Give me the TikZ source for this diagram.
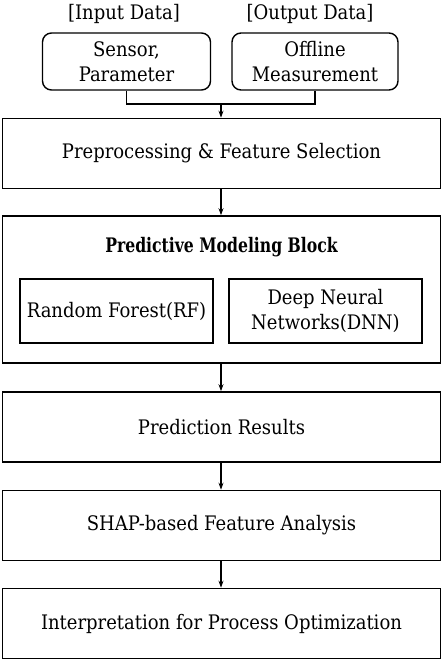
\documentclass[tikz,border=0pt]{standalone}
\usepackage{fontspec}
\usepackage{graphicx}
\setmainfont{DejaVu Serif Condensed}
\usetikzlibrary{arrows.meta}
\begin{document}
\begin{tikzpicture}[x=1pt,y=-1pt,
  txt/.style={font=\fontsize{20}{24.5}\selectfont},
  box/.style={draw,line width=1.6pt,minimum width=438pt,minimum height=70pt,inner sep=0pt,txt},
  inbox/.style={draw,line width=1.6pt,inner sep=0pt,txt,align=center},
  rbox/.style={draw,line width=1.4pt,rounded corners=9pt,inner sep=0pt,txt,align=center},
  lbl/.style={txt},
  arr/.style={line width=1.3pt,-{Stealth[length=7pt,width=5pt]}},
  ln/.style={line width=1.3pt}]
\useasboundingbox (0,0) rectangle (443,661);
\node[lbl] (inlbl) at (124,14) {[Input Data]};
\node[lbl] (outlbl) at (310,14) {[Output Data]};
\node[rbox,minimum width=168pt,minimum height=57pt] (sensor) at (126.5,61.5) {Sensor,\\Parameter};
\node[rbox,minimum width=166pt,minimum height=57pt] (offline) at (315,61.5) {Offline\\Measurement};
\node[box] (pre) at (221.5,153.5) {Preprocessing \& Feature Selection};
\node[box,minimum height=147pt] (pmb) at (221.5,289.5) {};
\node[txt] (pmbt) at (221.5,247) {\scalebox{0.87}[1]{\bfseries Predictive Modeling Block}};
\node[inbox,minimum width=193pt,minimum height=64pt] (rf) at (116.5,311) {Random Forest(RF)};
\node[inbox,minimum width=193pt,minimum height=64pt] (dnn) at (325.5,311) {Deep Neural\\Networks(DNN)};
\node[box] (res) at (221.5,427) {Prediction Results};
\node[box] (shap) at (221.5,525.5) {SHAP-based Feature Analysis};
\node[box] (interp) at (221.5,623.5) {Interpretation for Process Optimization};
\coordinate (j) at (221,104);
\draw[ln] (sensor.south) |- (j) -| (offline.south);
\draw[arr] (j) -- (pre.north -| j);
\draw[arr] (pre.south -| j) -- (pmb.north -| j);
\draw[arr] (pmb.south -| j) -- (res.north -| j);
\draw[arr] (res.south -| j) -- (shap.north -| j);
\draw[arr] (shap.south -| j) -- (interp.north -| j);
\end{tikzpicture}
\end{document}
